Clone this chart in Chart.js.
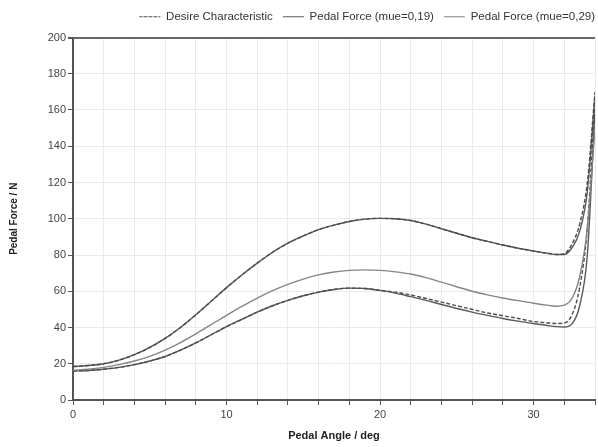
<!DOCTYPE html>
<html>
<head>
<meta charset="utf-8">
<script src="https://cdn.jsdelivr.net/npm/chart.js@4/dist/chart.umd.min.js"></script>
<style>
  html, body { margin: 0; padding: 0; background: #fff; }
  #wrap { width: 598px; height: 447px; }
</style>
</head>
<body>
<div id="wrap"><canvas id="pedalChart" width="598" height="447"></canvas></div>
<script>
// Pedalwinkel (deg)
const angles = [0, 1, 2, 3, 4, 5, 6, 7, 8, 9, 10, 11, 12, 13, 14, 15, 16, 17, 18, 19, 20,
    21, 22, 23, 24, 25, 26, 27, 28, 29, 30, 31, 31.5, 32, 32.5, 33, 33.5, 34];

// Sollkennlinie (obere und untere)
const desireUpper = [18.5, 19, 20, 22, 25, 29, 34, 40, 47, 54.5, 62, 69, 75.5, 81.5, 86.5, 90.5, 94, 96.5, 98.5, 99.8, 100.2,
    100, 99, 97, 94.5, 92, 89.5, 87.5, 85.5, 83.7, 82.2, 80.8, 80.3, 80.8, 86, 97, 120, 170];
const desireLower = [16, 16.3, 17, 18, 19.5, 21.5, 24, 27.5, 31.5, 36, 40.5, 44.5, 48.5, 52, 55, 57.5, 59.5, 61, 61.7, 61.5, 60.5,
    59.5, 58, 56, 54, 52, 50, 48, 46.5, 45, 43.3, 42.5, 42.2, 42.5, 47, 62, 95, 165];

// Pedalkraft
const forceUpper = [18.5, 19, 20, 22, 25, 29, 34, 40, 47, 54.5, 62, 69, 75.5, 81.5, 86.5, 90.5, 94, 96.5, 98.5, 99.8, 100.2,
    100, 99, 97, 94.5, 92, 89.5, 87.5, 85.5, 83.7, 82.2, 80.8, 80.3, 80.3, 84, 93, 115, 168];
const forceMiddle = [16.5, 17, 18, 19.5, 21.5, 24.1, 27.5, 31.7, 36.5, 41.6, 46.7, 51.6, 56.2, 60.3, 63.8, 66.7, 69, 70.6, 71.5, 71.8, 71.5,
    70.7, 69.5, 67.5, 65, 62.5, 60, 58, 56.3, 54.8, 53.4, 52.2, 51.7, 52.3, 56, 68, 95, 150];
const forceLower = [16, 16.3, 17, 18, 19.5, 21.5, 24, 27.5, 31.5, 36, 40.5, 44.5, 48.5, 52, 55, 57.5, 59.5, 61, 61.7, 61.5, 60.5,
    59, 57, 55, 52.7, 50.5, 48.5, 46.7, 45, 43.5, 42.2, 41, 40.5, 40.3, 42, 52, 80, 160];

const legendNames = ["Desire Characteristic", "Pedal Force (mue=0,19)", "Pedal Force (mue=0,29)"];

function toPoints(values) {
    return angles.map((a, i) => ({ x: a, y: values[i] }));
}

function line(label, values, color, dash) {
    return {
        label: label,
        data: toPoints(values),
        borderColor: color,
        backgroundColor: color,
        borderWidth: 1.4,
        borderDash: dash,
        pointRadius: 0,
        fill: false,
        cubicInterpolationMode: "monotone",
    };
}

// Legende: etwas mehr Abstand nach unten, weiter nach rechts
const legendTweak = {
    id: "legendTweak",
    beforeLayout(chart) {
        const legend = chart.legend;
        if (!legend || legend._patched) return;
        const fit = legend.fit;
        legend.fit = function () {
            fit.call(this);
            this.height += 5;
        };
        legend._patched = true;
    },
    afterLayout(chart) {
        if (chart.legend) chart.legend.right += 8;
    },
};

const ctx = document.getElementById("pedalChart").getContext("2d");
new Chart(ctx, {
    type: "line",
    data: {
        datasets: [
            line(legendNames[0], desireUpper, "#4d4d4d", [4, 2]),
            line(legendNames[1], forceUpper, "#5a5a5a", []),
            line(legendNames[2], forceMiddle, "#858585", []),
            line(legendNames[0], desireLower, "#4d4d4d", [4, 2]),
            line(legendNames[1], forceLower, "#5a5a5a", []),
        ],
    },
    plugins: [legendTweak],
    options: {
        responsive: false,
        animation: false,
        layout: { padding: { top: 1, right: 1, left: 0, bottom: 0 } },
        plugins: {
            tooltip: { enabled: false },
            legend: {
                position: "top",
                align: "end",
                labels: {
                    generateLabels: (chart) =>
                        Chart.defaults.plugins.legend.labels.generateLabels(chart)
                            .filter((item) => item.datasetIndex < 3)
                            .map((item) => ({
                                ...item,
                                fillStyle: "rgba(0,0,0,0)",
                                lineWidth: 1.2,
                                lineDash: item.datasetIndex === 0 ? [3, 2] : [],
                            })),
                    boxWidth: 21,
                    boxHeight: 0,
                    padding: 10,
                    color: "#333",
                    font: { family: "Liberation Sans, Arial", size: 11.5 },
                },
            },
        },
        scales: {
            x: {
                type: "linear",
                min: 0,
                max: 34,
                afterFit: (s) => { s.height = 47; },
                ticks: {
                    stepSize: 2,
                    autoSkip: false,
                    maxRotation: 0,
                    color: "#444",
                    font: { family: "Liberation Sans, Arial", size: 11 },
                    padding: 3,
                    callback: (v) => (v % 10 === 0 ? v : ""),
                },
                grid: { color: "#ebebeb", tickColor: "#555", tickLength: 5 },
                border: { color: "#555", width: 2 },
                title: {
                    display: true,
                    text: "Pedal Angle / deg",
                    color: "#222",
                    font: { family: "Liberation Sans, Arial", size: 11, weight: "bold" },
                    padding: { top: 11 },
                },
            },
            y: {
                min: 0,
                max: 200,
                afterFit: (s) => { s.width = 73; },
                ticks: {
                    stepSize: 20,
                    color: "#444",
                    font: { family: "Liberation Sans, Arial", size: 11 },
                    padding: 2,
                },
                grid: {
                    color: (c) => (c.tick && c.tick.value === 200 ? "#666" : "#ebebeb"),
                    lineWidth: (c) => (c.tick && c.tick.value === 200 ? 2 : 1),
                    tickColor: "#555",
                    tickLength: 5,
                },
                border: { color: "#555", width: 2 },
                title: {
                    display: true,
                    text: "Pedal Force / N",
                    color: "#222",
                    font: { family: "Liberation Sans, Arial", size: 10, weight: "bold" },
                    padding: { top: 8, bottom: 0 },
                },
            },
        },
    },
});
</script>
</body>
</html>
